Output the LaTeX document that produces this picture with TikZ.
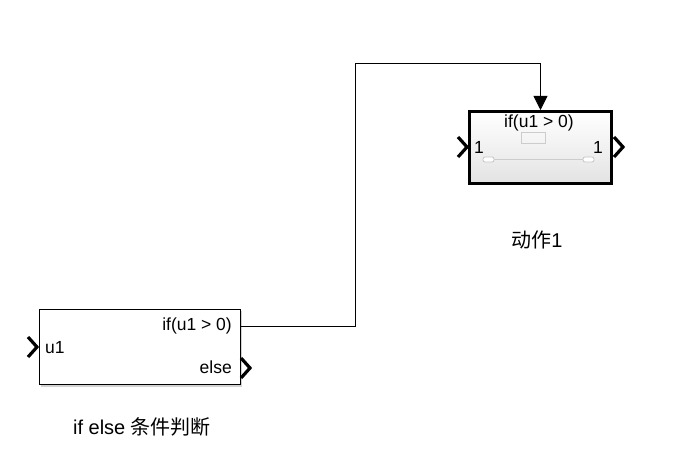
\documentclass[tikz,border=0pt]{standalone}
\usepackage{fontspec}
\setmainfont{Liberation Sans}
\newfontfamily\cjk{Noto Sans CJK SC}
\usepackage{xcolor}
\usepackage{tikz}
\usetikzlibrary{shapes,arrows,positioning,calc,backgrounds,arrows.meta}

\tikzset{
    blockbox/.style={
        draw=black,
        line width=1pt,
        fill=white,
        rectangle
    },
    actionbox/.style={
        draw=black,
        line width=3pt,
        top color=white,
        bottom color=gray!22,
        rectangle
    },
    portmark/.style={
        draw=black,
        line width=3.2pt,
        line join=miter
    },
    signal/.style={
        draw=black,
        line width=0.8pt,
        -{Triangle[length=14pt,width=14pt]}
    },
    lbl/.style={
        inner sep=0pt,
        font=\fontsize{17.5}{20}\selectfont
    },
    namelbl/.style={
        inner sep=0pt,
        font=\fontsize{20}{23}\selectfont
    }
}

\begin{document}
\begin{tikzpicture}[x=1pt,y=-1pt]
    \useasboundingbox (0,0) rectangle (687,468);

    % if else block
    \fill[gray!35] (41,311) rectangle (242,386.5);
    \node[blockbox, minimum width=201pt, minimum height=75pt, inner sep=0pt] (ifblk) at (139.5,346.5) {};
    \draw[portmark] (28,337) -- (37,347) -- (28,357);
    \draw[portmark] (241,358) -- (250,368) -- (241,378);
    \node[lbl, anchor=west] (inu) at (45,348) {u1};
    \node[lbl, anchor=east] (ifport) at (232,326) {if(u1 > 0)};
    \node[lbl, anchor=east] (elseport) at (232,367) {else};
    \node[namelbl] (ifname) at (142,427) {if else {\cjk 条件判断}};
    \coordinate (ifout) at (ifblk.east |- ifport);

    % action block
    \node[actionbox, minimum width=142pt, minimum height=72pt, inner sep=0pt] (act) at (540.5,147.5) {};
    \draw[portmark] (458,137) -- (467,147) -- (458,157);
    \draw[portmark] (614,137) -- (623,147) -- (614,157);
    \node[lbl] (actif) at (539,123) {if(u1 > 0)};
    \node[lbl] (actin) at (479,147) {1};
    \node[lbl] (actout) at (598,147) {1};
    \draw[gray!40, line width=0.8pt] (521,132) rectangle (545,143);
    \draw[gray!40, line width=0.8pt] (494,159.5) -- (583,159.5);
    \draw[gray!45, line width=0.8pt, fill=white, rounded corners=2pt] (483,157) rectangle (494,162);
    \draw[gray!45, line width=0.8pt, fill=white, rounded corners=2pt] (583,157) rectangle (594,162);
    \node[namelbl] (actname) at (537,240) {{\cjk 动作}1};

    % signal
    \coordinate (bend) at (355.5,63);
    \draw[signal] (ifout) -| (bend) -| (act.north);
\end{tikzpicture}
\end{document}
